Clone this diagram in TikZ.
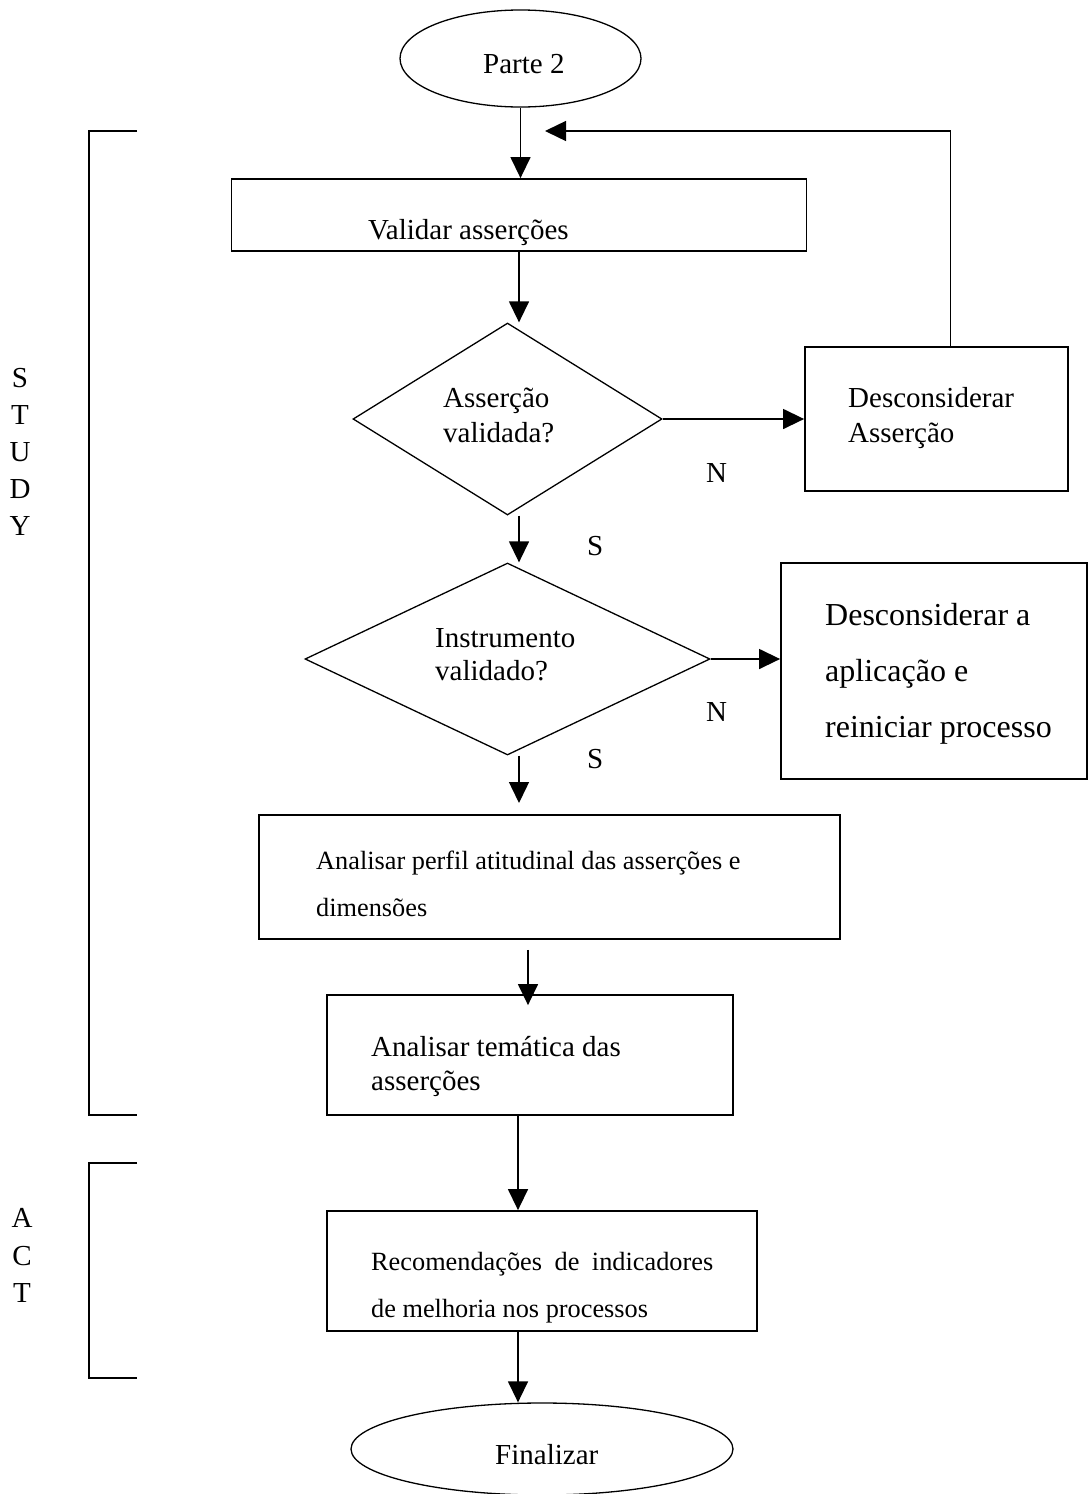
\documentclass[tikz,border=0pt]{standalone}
\usepackage{fontspec}
\setmainfont{Liberation Serif}
\usetikzlibrary{arrows.meta,shapes.geometric}
\begin{document}
\begin{tikzpicture}[x=1pt,y=-1pt,
  box/.style={draw, rectangle, inner sep=0pt, line width=1.8pt},
  dia/.style={draw, diamond, inner sep=0pt, line width=1.3pt},
  term/.style={draw, ellipse, inner sep=0pt, line width=1.3pt},
  txt/.style={anchor=base west, inner sep=0pt, font=\fontsize{29}{29}\selectfont},
  small/.style={anchor=base west, inner sep=0pt, font=\fontsize{26.3}{26.3}\selectfont},
  big/.style={anchor=base west, inner sep=0pt, font=\fontsize{32}{32}\selectfont},
  side/.style={anchor=base, inner sep=0pt, font=\fontsize{29}{29}\selectfont},
  arr/.style={-{Triangle[length=21pt,width=20pt]}, line width=1.4pt},
  brace/.style={line width=1.5pt},
]
\useasboundingbox (0,0) rectangle (1089,1494);

% terminals
\node[term, minimum width=241pt, minimum height=97pt] (start) at (520.5,58.5) {};
\node[txt] (startT) at (483,73) {Parte 2};
\node[term, minimum width=382pt, minimum height=92pt] (fin) at (542,1449) {};
\node[txt] (finT) at (495,1464) {Finalizar};

% process boxes
\node[box, minimum width=575pt, minimum height=72pt] (validar) at (519,215) {};
\node[txt] (validarT) at (368,239) {Validar asserções};

\node[box, minimum width=263pt, minimum height=144pt] (descA) at (936.5,419) {};
\node[txt] (descA1) at (848,407) {Desconsiderar};
\node[txt] (descA2) at (848,442) {Asserção};

\node[box, minimum width=306pt, minimum height=216pt] (descB) at (934,671) {};
\node[big] (descB1) at (825,625) {Desconsiderar a};
\node[big] (descB2) at (825,681) {aplicação e};
\node[big] (descB3) at (825,737) {reiniciar processo};

\node[box, minimum width=581pt, minimum height=124pt] (perfil) at (549.5,877) {};
\node[small] (perfil1) at (316,869) {Analisar perfil atitudinal das asserções e};
\node[small] (perfil2) at (316,916) {dimensões};

\node[box, minimum width=406pt, minimum height=120pt] (tema) at (530,1055) {};
\node[txt] (tema1) at (371,1056) {Analisar temática das};
\node[txt] (tema2) at (371,1090) {asserções};

\node[box, minimum width=430pt, minimum height=120pt] (recom) at (542,1271) {};
\node[small] (recom1) at (371,1270) {\makebox[342pt][s]{Recomendações de indicadores}};
\node[small] (recom2) at (371,1317) {de melhoria nos processos};

% decisions
\node[dia, minimum width=309pt, minimum height=192pt] (d1) at (507.5,419) {};
\node[txt] (d1a) at (443,407) {Asserção};
\node[txt] (d1b) at (443,442) {validada?};

\node[dia, minimum width=405pt, minimum height=192pt] (d2) at (507.5,659) {};
\node[txt] (d2a) at (435,647) {Instrumento};
\node[txt] (d2b) at (435,680) {validado?};

% branch labels
\node[txt] (n1) at (706,482) {N};
\node[txt] (s1) at (587,555) {S};
\node[txt] (n2) at (706,721) {N};
\node[txt] (s2) at (587,768) {S};

% connectors
\draw[arr] (start.south) -- (start.south |- validar.north);
\draw[arr] (validar.south) -- (validar.south |- d1.north);
\draw[arr] (validar.south |- d1.south) -- (validar.south |- d2.north);
\coordinate (p1) at (519,803);
\draw[arr] (validar.south |- d2.south) -- (p1);
\draw[arr] ([shift={(-21.5,10)}]perfil.south) -- ([shift={(-2,11)}]tema.north);
\draw[arr] ([xshift=-12pt]tema.south) -- ([xshift=-12pt]tema.south |- recom.north);
\draw[arr] ([xshift=-24pt]recom.south) -- ([xshift=-24pt]recom.south |- fin.north);
\draw[arr] (d1.east) -- (descA.west);
\draw[arr] (d2.east) -- (d2.east -| descB.west);
\coordinate (fb) at (545,131);
\draw[arr] ([xshift=14pt]descA.north) |- (fb);

% phase brackets
\draw[brace] (137,131) -- (89,131) -- (89,1115) -- (137,1115);
\draw[brace] (137,1163) -- (89,1163) -- (89,1378) -- (137,1378);

% phase names
\node[side] (st1) at (20,387) {S};
\node[side] (st2) at (20,424) {T};
\node[side] (st3) at (20,461) {U};
\node[side] (st4) at (20,498) {D};
\node[side] (st5) at (20,535) {Y};
\node[side] (ac1) at (22,1227) {A};
\node[side] (ac2) at (22,1265) {C};
\node[side] (ac3) at (22,1302) {T};
\end{tikzpicture}
\end{document}
